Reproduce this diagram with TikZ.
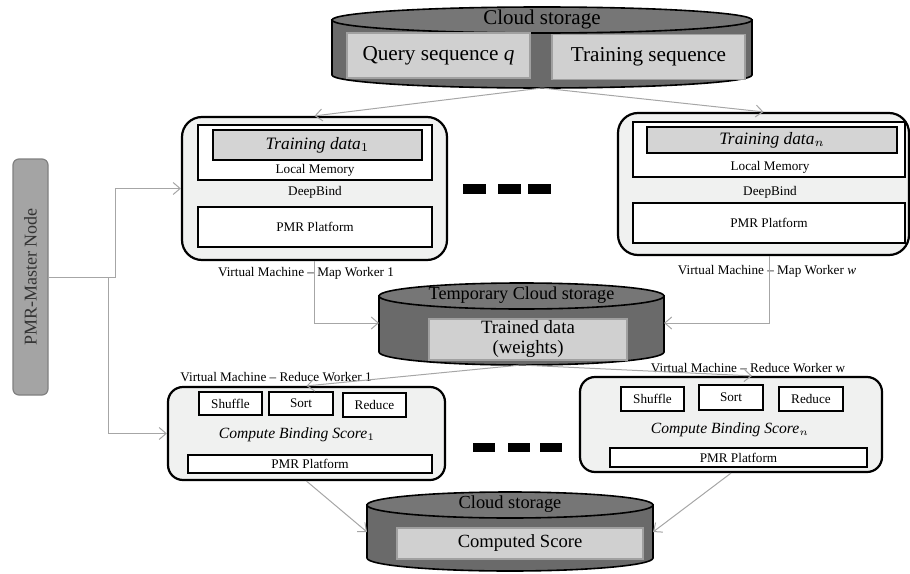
\documentclass[tikz,border=0pt]{standalone}
\usepackage{fontspec}
\setmainfont{Liberation Serif}
\usetikzlibrary{positioning}
\usetikzlibrary{arrows.meta}
\usetikzlibrary{calc}
\tikzset{>={Straight Barb[length=3.5pt,width=6pt]}}
\definecolor{drumgray}{HTML}{6A6A6A}
\definecolor{drumtop}{HTML}{767676}
\definecolor{storefill}{HTML}{D0D0D0}
\definecolor{boxedge}{HTML}{A0A0A0}
\definecolor{datagray}{HTML}{D4D4D4}
\definecolor{vmfill}{HTML}{F0F1F0}
\definecolor{linegray}{HTML}{A6A6A6}
\definecolor{masterfill}{HTML}{A4A4A4}
\definecolor{masteredge}{HTML}{808080}

\begin{document}
\begin{tikzpicture}[x=0.5pt, y=-0.5pt,
  link/.style={color=linegray, line width=0.5pt},
  vmbox/.style={draw, line width=1.1pt, fill=vmfill, rounded corners=10pt},
  inbox/.style={draw, line width=1pt, fill=white, inner sep=1pt},
  databox/.style={draw, line width=1pt, fill=datagray, inner sep=1pt, font=\fontsize{8.7}{10}\selectfont},
  stbox/.style={draw=boxedge, line width=0.6pt, fill=storefill, inner sep=1pt},
  drum/.style={draw, line width=0.8pt, fill=drumgray},
  smalltext/.style={font=\fontsize{6.6}{8}\selectfont},
  scoretext/.style={font=\fontsize{7.8}{9}\selectfont}]
\useasboundingbox (0,0) rectangle (910,573);

% top cloud storage
\path[drum] (332,20) -- (332,75) arc[start angle=180, end angle=360, x radius=105pt, y radius=6.5pt] -- (752,20) -- cycle;
\path[drum, fill=drumtop] (542,20) ellipse[x radius=105pt, y radius=6.5pt];
\node[font=\fontsize{10.5}{12}\selectfont] (cloudtop) at (542,19) {Cloud storage};
\node[stbox, minimum width=91.5pt, minimum height=22.5pt, font=\fontsize{10.6}{12}\selectfont] (query) at (438.5,55.5) {Query sequence \textit{q}};
\node[stbox, minimum width=96.5pt, minimum height=22.5pt, font=\fontsize{10.6}{12}\selectfont] (trainseq) at (648.5,57) {Training sequence};
\coordinate (cloudtop bottom) at (542,88);

% map worker 1
\node[vmbox, minimum width=132.5pt, minimum height=71.5pt] (mw1) at (314.5,188.5) {};
\node[inbox, minimum width=117pt, minimum height=27.5pt] (mem1) at (315,152.5) {};
\node[databox, minimum width=104.5pt, minimum height=15pt] (data1) at (317.5,145) {\textit{Training data}$_{1}$};
\node[smalltext] (memlabel1) at (315,170) {Local Memory};
\node[smalltext] (deep1) at (315,192) {DeepBind};
\node[inbox, smalltext, minimum width=117pt, minimum height=20pt] (pmr1) at (315,227) {PMR Platform};
\node[smalltext] (vm1) at (306,273) {Virtual Machine -- Map Worker 1};

% map worker w
\node[vmbox, minimum width=145.5pt, minimum height=71pt] (mwn) at (763.5,184) {};
\node[inbox, minimum width=136pt, minimum height=27.5pt] (memn) at (769,149.5) {};
\node[databox, minimum width=125pt, minimum height=13pt] (datan) at (772,140) {\textit{Training data}$_{n}$};
\node[smalltext] (memlabeln) at (770,167) {Local Memory};
\node[smalltext] (deepn) at (770,192) {DeepBind};
\node[inbox, smalltext, minimum width=136pt, minimum height=20pt] (pmrn) at (769,223) {PMR Platform};
\node[smalltext] (vmn) at (767,271) {Virtual Machine -- Map Worker \textit{w}};

% dots between workers
\foreach \x in {463,498,528} \fill (\x,184) rectangle ++(23,10);
\foreach \x in {473,508,540} \fill (\x,443) rectangle ++(22,9);

% temporary storage
\path[drum] (379,296) -- (379,352) arc[start angle=180, end angle=360, x radius=71.25pt, y radius=6.5pt] -- (664,296) -- cycle;
\path[drum, fill=drumtop] (521.5,296) ellipse[x radius=71.25pt, y radius=6.5pt];
\node[font=\fontsize{9.1}{10}\selectfont] (tmpcloud) at (521.5,295) {Temporary Cloud storage};
\node[stbox, minimum width=99pt, minimum height=20.5pt, inner sep=0pt, align=center, font=\fontsize{9.4}{10}\selectfont] (trained) at (528,339.5) {Trained data\\(weights)};
\coordinate (tmp west) at (379,323);
\coordinate (tmp east) at (664,323);
\coordinate (tmp bottom) at (521,365);

% reduce worker 1
\node[vmbox, rounded corners=7.5pt, minimum width=138.5pt, minimum height=46.5pt] (rw1) at (306.5,433.5) {};
\node[inbox, smalltext, minimum width=31.5pt, minimum height=11.5pt] (shuffle1) at (230.5,403.5) {Shuffle};
\node[inbox, smalltext, minimum width=32pt, minimum height=11.5pt] (sort1) at (301,403.5) {Sort};
\node[inbox, smalltext, minimum width=31.5pt, minimum height=12pt] (reduce1) at (374.5,405) {Reduce};
\node[scoretext] (score1) at (297,435) {\textit{Compute Binding Score}$_{1}$};
\node[inbox, smalltext, minimum width=122pt, minimum height=9pt, inner sep=0pt] (pmr3) at (310,464) {PMR Platform};
\node[smalltext] (vm3) at (276,377) {Virtual Machine -- Reduce Worker 1};

% reduce worker w
\node[vmbox, rounded corners=7.5pt, minimum width=151pt, minimum height=47.5pt] (rwn) at (731,424.5) {};
\node[inbox, smalltext, minimum width=31.5pt, minimum height=12pt] (shufflen) at (652.5,399) {Shuffle};
\node[inbox, smalltext, minimum width=32pt, minimum height=12.5pt] (sortn) at (731,397.5) {Sort};
\node[inbox, smalltext, minimum width=32pt, minimum height=12pt] (reducen) at (811,399) {Reduce};
\node[scoretext] (scoren) at (730,430) {\textit{Compute Binding Score}$_{n}$};
\node[inbox, smalltext, minimum width=128.5pt, minimum height=9.5pt, inner sep=0pt] (pmr4) at (738.5,457.5) {PMR Platform};
\node[smalltext] (vm4) at (748,368) {Virtual Machine -- Reduce Worker w};

% bottom storage
\path[drum] (367,505) -- (367,558) arc[start angle=180, end angle=360, x radius=71.5pt, y radius=6.5pt] -- (653,505) -- cycle;
\path[drum, fill=drumtop] (510,505) ellipse[x radius=71.5pt, y radius=6.5pt];
\node[font=\fontsize{9.2}{10}\selectfont] (cloudbot) at (510,504) {Cloud storage};
\node[stbox, minimum width=123pt, minimum height=15.5pt, font=\fontsize{9.3}{10}\selectfont] (computed) at (520,543.5) {Computed Score};
\coordinate (bot west) at (367,532);
\coordinate (bot east) at (653,532);

% master node
\node[draw=masteredge, fill=masterfill, line width=0.6pt, rounded corners=3pt, minimum width=17.5pt, minimum height=118pt, inner sep=0pt, font=\fontsize{9}{10}\selectfont, text=black!80] (master) at (30.5,277) {\rotatebox{90}{PMR-Master Node}};
\coordinate (split) at (115,277);
\coordinate (tap) at (108,277);

\draw[link, ->] (master.east) -- (split) |- (mw1.west);
\draw[link, ->] (tap) |- (rw1.west);
\path[link, ->] (cloudtop bottom) edge (mw1.north) edge (mwn.north);
\draw[link, ->] (mw1.south) |- (tmp west);
\draw[link, ->] ([xshift=3pt]mwn.south) |- (tmp east);
\path[link, ->] (tmp bottom) edge (rw1.north) edge ([xshift=10.5pt]rwn.north);
\path[link, ->] (rw1.south) edge (bot west)
                (rwn.south) edge (bot east);
\end{tikzpicture}
\end{document}
